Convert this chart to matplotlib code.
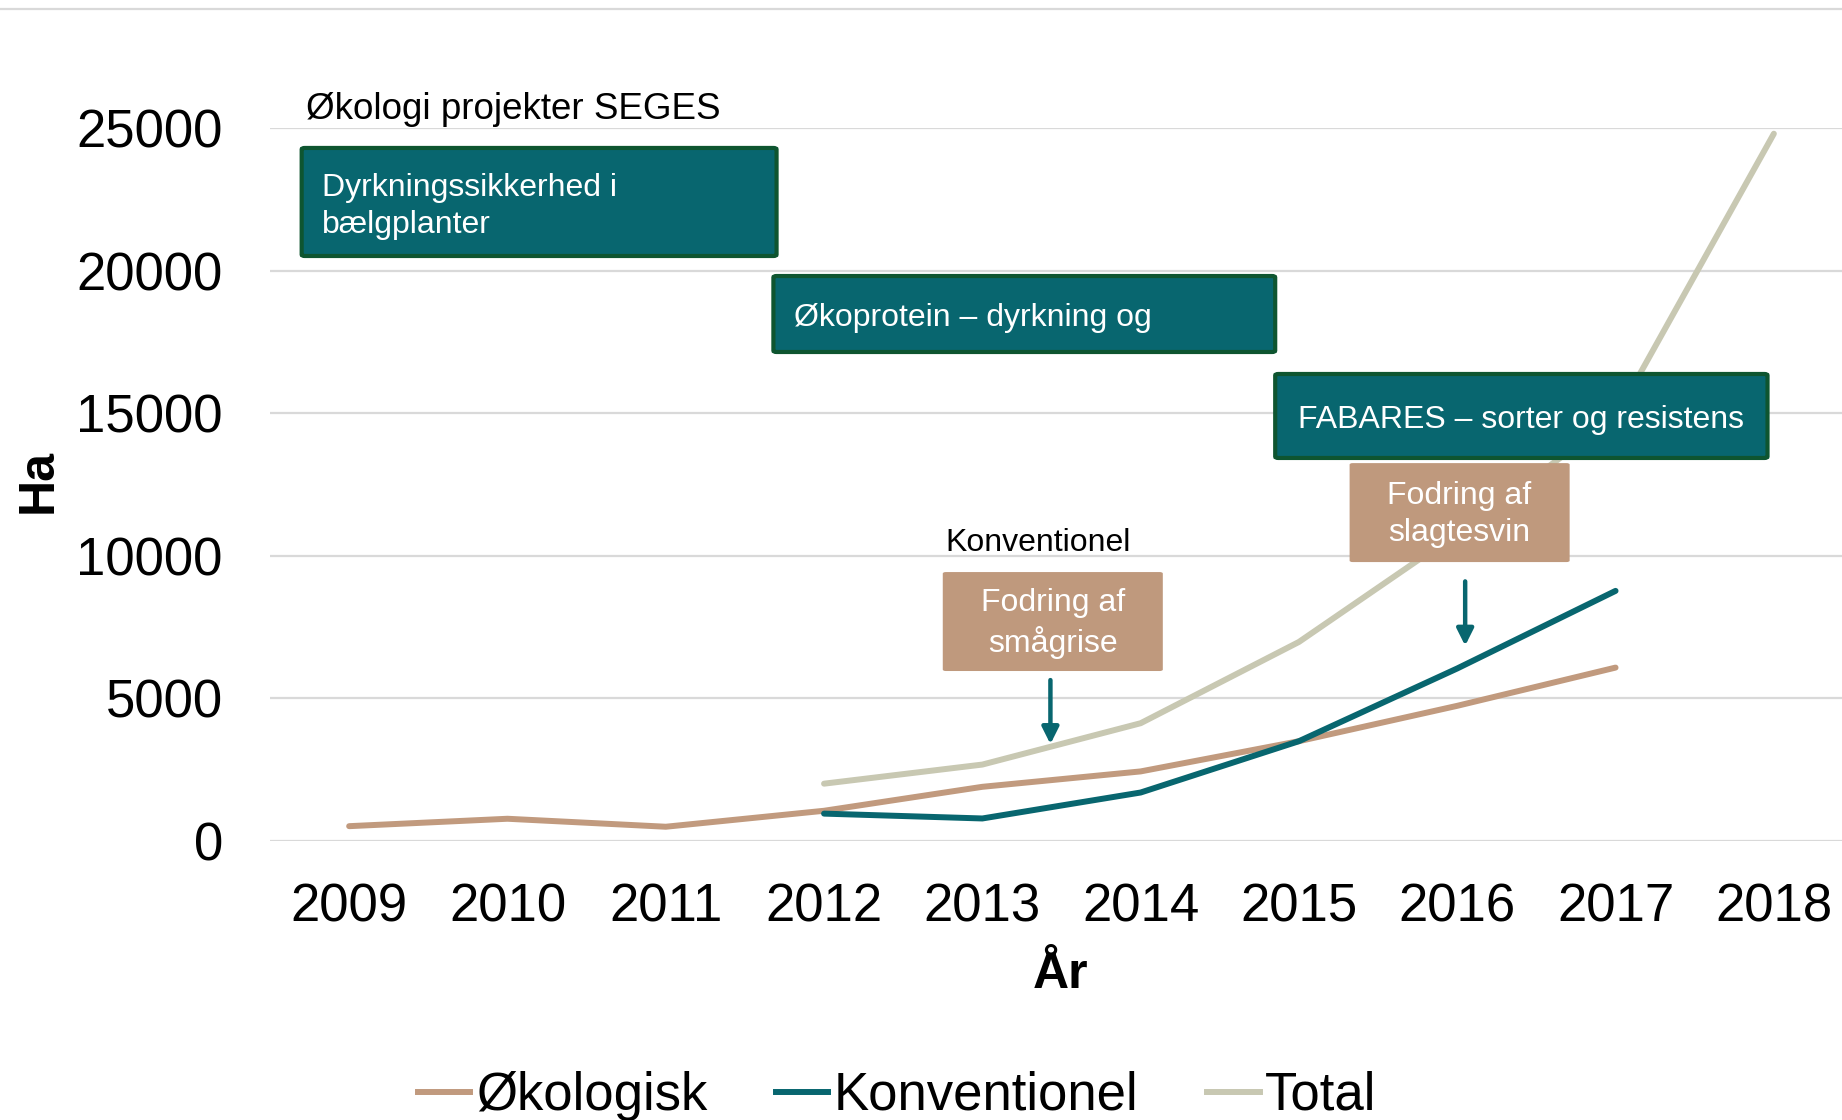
import matplotlib as mpl
mpl.use('agg')
import numpy as np
import matplotlib.pyplot as plt
from matplotlib.patches import FancyBboxPatch
from matplotlib.lines import Line2D

plt.rcParams['font.family'] = ['Liberation Sans', 'DejaVu Sans']

years_oko = [2009, 2010, 2011, 2012, 2013, 2014, 2015, 2016, 2017]
oko = [520, 780, 500, 1060, 1900, 2440, 3500, 4740, 6080]
years_konv = [2012, 2013, 2014, 2015, 2016, 2017]
konv = [960, 790, 1700, 3500, 6050, 8770]
years_total = [2012, 2013, 2014, 2015, 2016, 2017, 2018]
total = [2010, 2680, 4130, 6980, 10790, 14850, 24800]
year_ticks = list(range(2009, 2019))
y_ticks = [0, 5000, 10000, 15000, 20000, 25000]

c_oko = '#C19A7E'
c_konv = '#08666F'
c_total = '#C8C8B2'
c_box = '#08666F'
c_edge = '#0E5530'
c_brown = '#BF997D'
c_grid = '#D9D9D9'

text_sizes = {'tick': 38, 'label': 36, 'box': 23, 'note': 23, 'title': 26.5}
dpi = 100

fig = plt.figure(figsize=(18.42, 11.2), dpi=dpi)
W, H = 1842.0, 1120.0
ax = fig.add_axes([270 / W, (H - 841) / H, (1853 - 270) / W, (841 - 128) / H])
ax.set_xlim(2008.5, 2018.5)
ax.set_ylim(0, 25000)

for s in ax.spines.values():
    s.set_visible(False)
ax.set_yticks(y_ticks)
ax.set_xticks(year_ticks)
ax.yaxis.grid(True, color=c_grid, lw=1.6)
ax.set_axisbelow(True)
ax.tick_params(axis='both', length=0, labelsize=text_sizes['tick'])
ax.tick_params(axis='y', pad=34)
ax.tick_params(axis='x', pad=30)

lw = 4.3
ax.plot(years_oko, oko, color=c_oko, lw=lw, solid_capstyle='round', clip_on=False, zorder=3)
ax.plot(years_konv, konv, color=c_konv, lw=lw, solid_capstyle='round', clip_on=False, zorder=4)
ax.plot(years_total, total, color=c_total, lw=lw, solid_capstyle='round', clip_on=False, zorder=2)


def box(x0, x1, y0, y1, fc, ec=None, elw=0):
    p = FancyBboxPatch((x0, y0), x1 - x0, y1 - y0, boxstyle='round,pad=0,rounding_size=0.02',
                       mutation_aspect=2500, fc=fc, ec=ec if ec else fc, lw=elw,
                       zorder=6, clip_on=False)
    ax.add_patch(p)


ls = 1.3
# project boxes
box(2008.70, 2011.70, 20512, 24300, c_box, c_edge, 3)
ax.text(2008.83, 22250, 'Dyrkningssikkerhed i\nbælgplanter', color='white', fontsize=text_sizes['box'],
        ha='left', va='center', linespacing=ls, zorder=7)
box(2011.68, 2014.85, 17146, 19810, c_box, c_edge, 3)
ax.text(2011.81, 18330, 'Økoprotein – dyrkning og', color='white', fontsize=text_sizes['box'],
        ha='left', va='center', zorder=7)
box(2014.85, 2017.96, 13430, 16375, c_box, c_edge, 3)
ax.text(2016.405, 14750, 'FABARES – sorter og resistens', color='white', fontsize=text_sizes['box'],
        ha='center', va='center', zorder=7)

ax.text(2008.73, 25650, 'Økologi projekter SEGES', color='black', fontsize=text_sizes['title'],
        ha='left', va='center')

# feed boxes
box(2012.75, 2014.14, 5960, 9430, c_brown)
ax.text(2013.445, 7620, 'Fodring af\nsmågrise', color='white', fontsize=text_sizes['box'],
        ha='center', va='center', linespacing=ls, zorder=7)
box(2015.32, 2016.71, 9780, 13250, c_brown)
ax.text(2016.015, 11440, 'Fodring af\nslagtesvin', color='white', fontsize=text_sizes['box'],
        ha='center', va='center', linespacing=ls, zorder=7)
ax.text(2013.35, 10450, 'Konventionel', color='black', fontsize=text_sizes['note'],
        ha='center', va='center')

arrow_kw = dict(arrowstyle='-|>,head_length=1.0,head_width=0.5', color=c_konv, lw=3.2)
ax.annotate('', xy=(2013.43, 3300), xytext=(2013.43, 5740), arrowprops=arrow_kw, zorder=8)
ax.annotate('', xy=(2016.05, 6750), xytext=(2016.05, 9200), arrowprops=arrow_kw, zorder=8)

# axis titles
fig.text(39 / W, (H - 481) / H, 'Ha', rotation=90, fontsize=text_sizes['label'], fontweight='bold',
         ha='center', va='center')
fig.text(1061 / W, (H - 975) / H, 'År', fontsize=text_sizes['label'], fontweight='bold',
         ha='center', va='center')

# top separator line
fig.add_artist(Line2D([0, 1], [(H - 9) / H] * 2, color=c_grid, lw=1.6))

handles = [Line2D([], [], color=c_oko, lw=lw),
           Line2D([], [], color=c_konv, lw=lw),
           Line2D([], [], color=c_total, lw=lw)]
fig.legend(handles, ['Økologisk', 'Konventionel', 'Total'], loc='center',
           bbox_to_anchor=(897 / W, (H - 1096) / H), ncol=3, frameon=False,
           fontsize=38, handlelength=1.0, handletextpad=0.1, columnspacing=1.3)

fig.savefig('out.png', dpi=dpi)
plt.close()
